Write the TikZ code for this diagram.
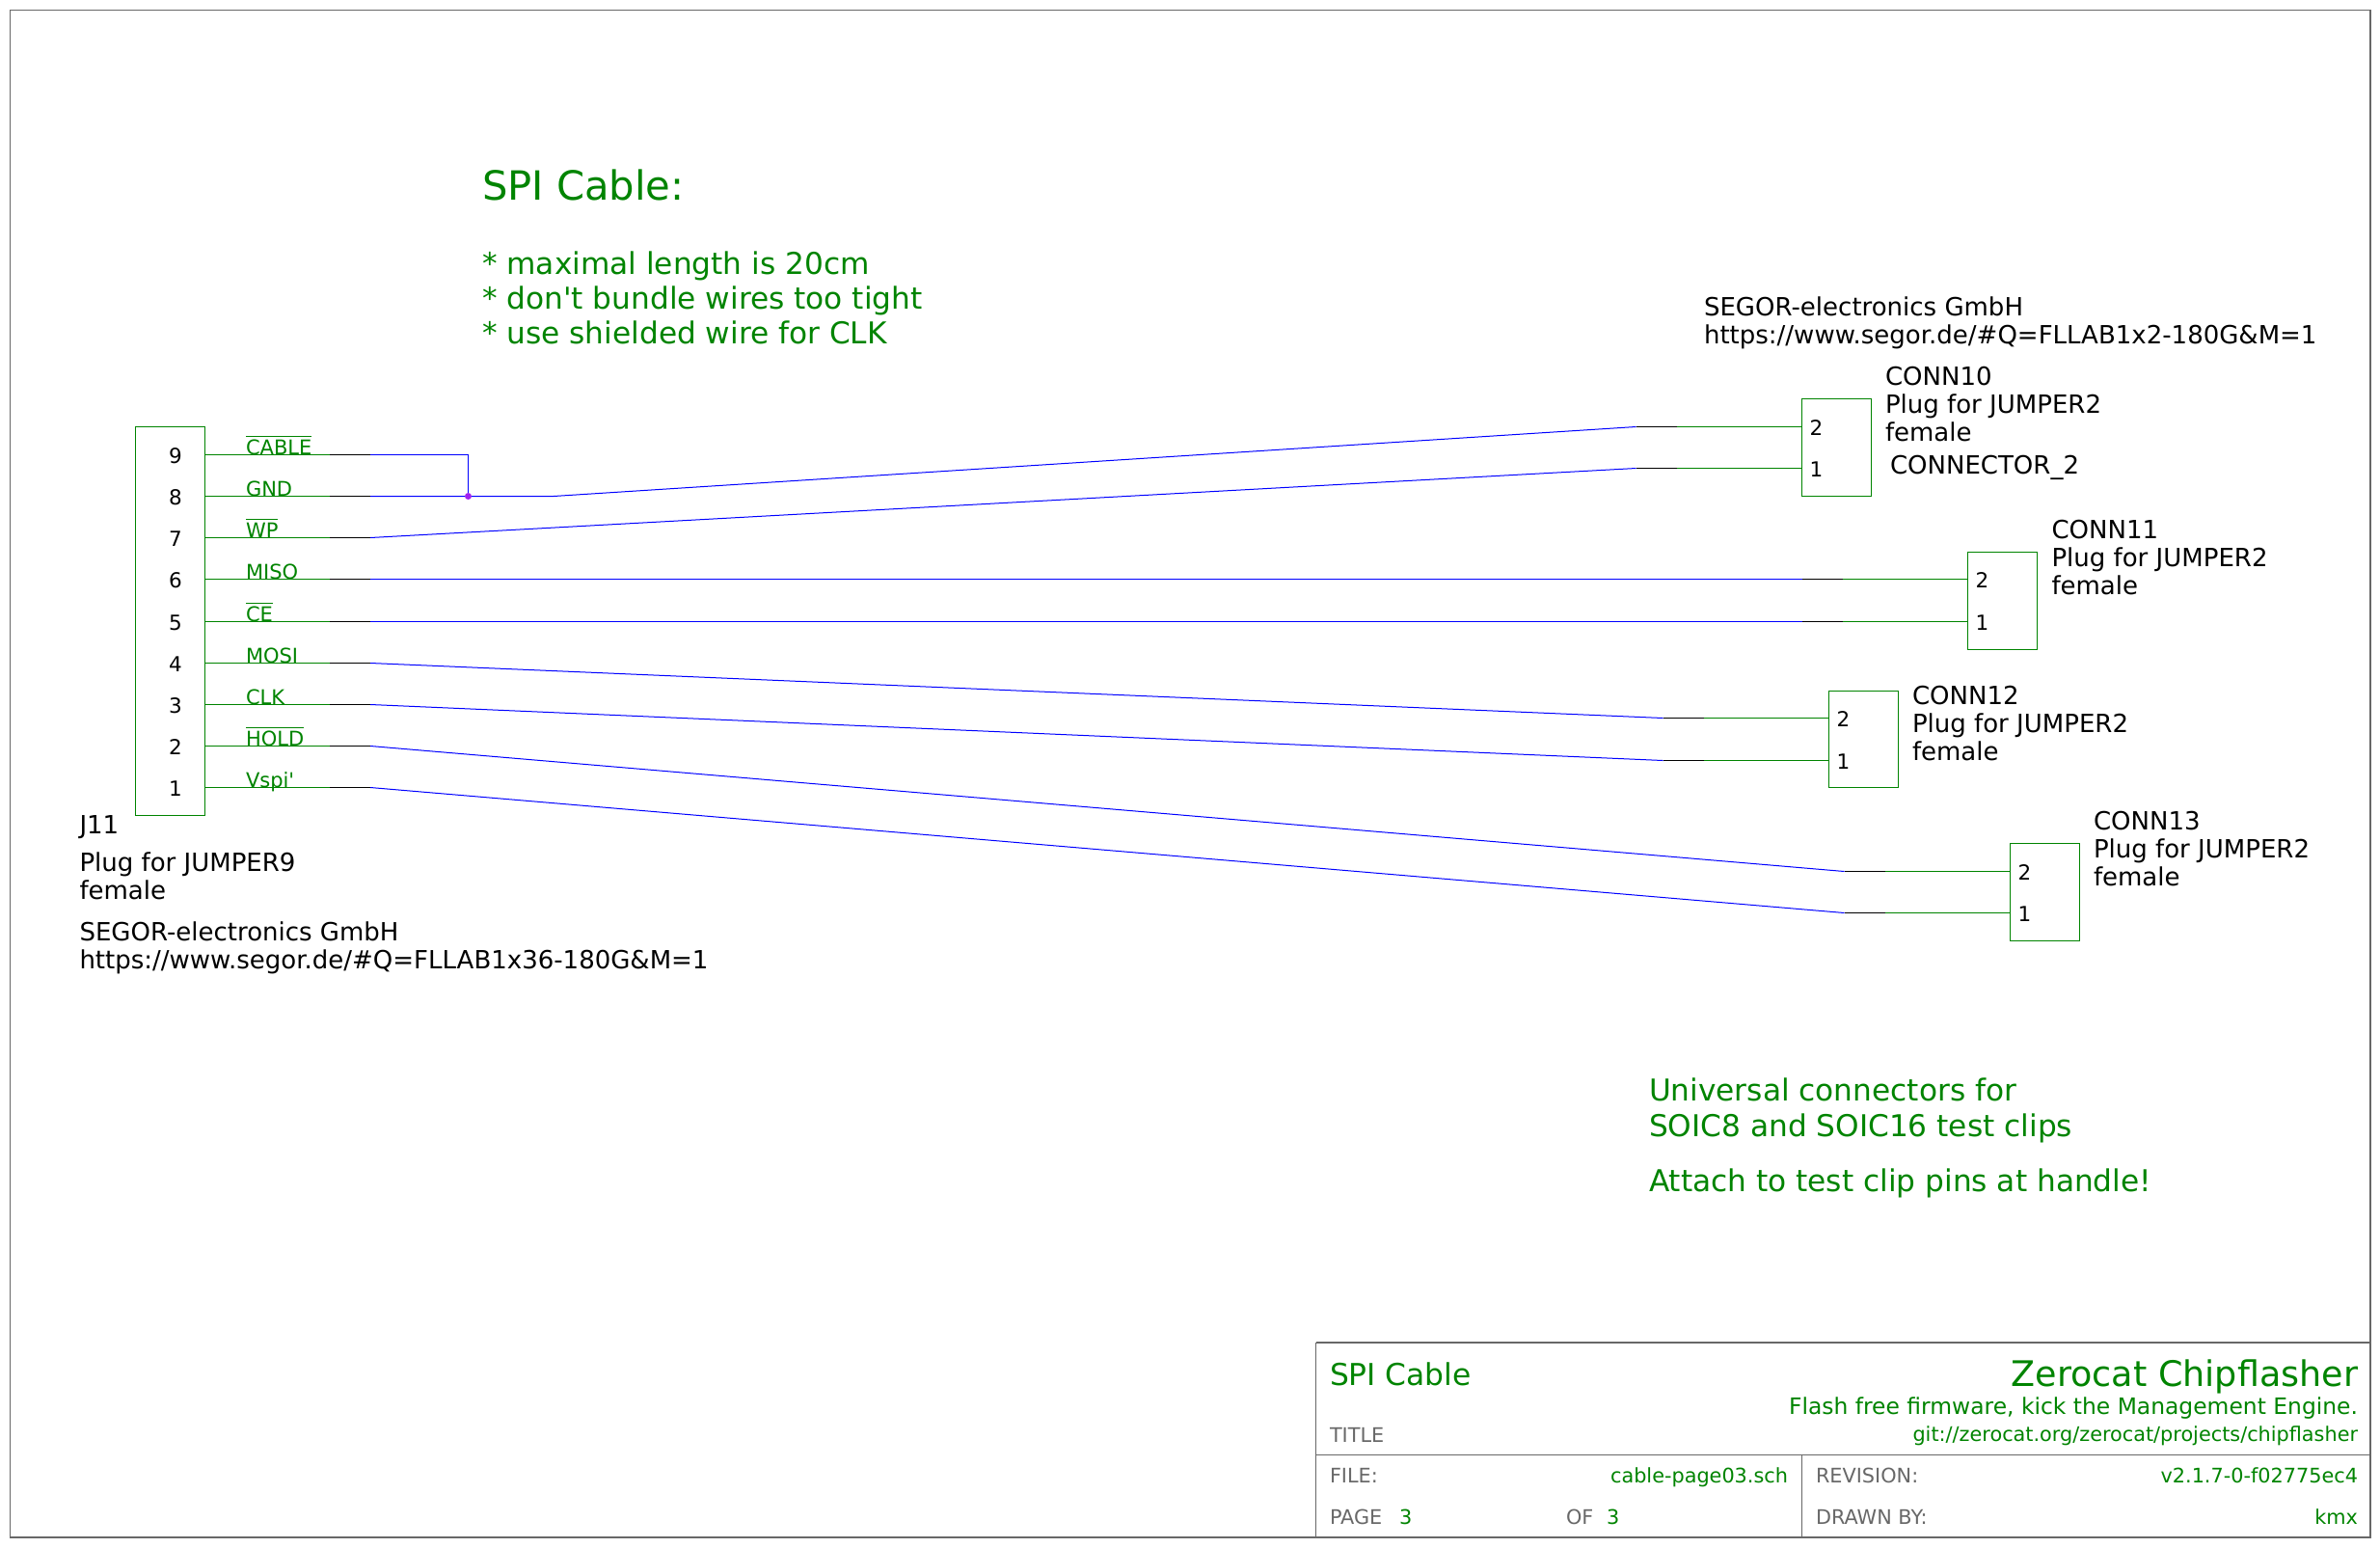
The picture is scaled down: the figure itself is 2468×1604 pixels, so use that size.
\documentclass[tikz,border=0pt]{standalone}
\usepackage{fontspec}
\setmainfont[Ligatures=TeXOff]{DejaVu Sans}
\definecolor{kgreen}{RGB}{0,132,0}
\definecolor{kgray}{RGB}{104,104,104}
\definecolor{kblue}{RGB}{0,0,255}
\definecolor{kpurple}{RGB}{160,32,240}
\newcommand{\fs}[1]{\fontsize{#1}{#1}\selectfont}
\newcommand{\ov}[1]{\leavevmode\setbox0\hbox{#1}\rlap{\rule[18.4pt]{\wd0}{0.8pt}}\box0}
\tikzset{
  x=1pt,y=-1pt,
  every node/.style={inner sep=0pt,outer sep=0pt},
  frameline/.style={draw=kgray,line width=1.2pt},
  thinframe/.style={draw=kgray,line width=0.8pt},
  body/.style={draw=kgreen,line width=1pt},
  pinline/.style={draw=kgreen,line width=1pt},
  stub/.style={draw=black,line width=1pt},
  wire/.style={draw=kblue,line width=1pt},
  pinnum/.style={anchor=base,text=black,font=\fs{21.5}},
  netlabel/.style={anchor=base west,text=kgreen,font=\fs{21}},
  attr/.style={anchor=base west,text=black,font=\fs{26}},
  note/.style={anchor=base west,text=kgreen,font=\fs{31.2}},
  tlabel/.style={anchor=base west,text=kgray,font=\fs{20.8}},
  tvalue/.style={anchor=base east,text=kgreen,font=\fs{20.8}},
}
\begin{document}
\begin{tikzpicture}
\useasboundingbox (0,0) rectangle (2468,1604);
\fill[white] (0,0) rectangle (2468,1604);
% frame
\path[frameline] (10.5,10.5) rectangle (2458,1594);
\coordinate (tbTL) at (1364.5,1392);
\coordinate (tbML) at (1364.5,1508.5);
\coordinate (tbMR) at (2458,1508.5);
\coordinate (tbBL) at (1364.5,1594);
\coordinate (tbTR) at (2458,1392);
\coordinate (tbVT) at (1868.5,1508.5);
\coordinate (tbVB) at (1868.5,1594);
\path[frameline] (tbTL) -- (tbBL);
\path[frameline] (tbTL) -- (tbTR);
\path[frameline] (tbML) -- (tbMR);
\path[thinframe] (tbVT) -- (tbVB);
% title block texts
\node[anchor=base west,text=kgreen,font=\fs{31.3}] (t1) at (1379,1436) {SPI Cable};
\node[anchor=base east,text=kgreen,font=\fs{36.5}] (t2) at (2445,1437) {Zerocat Chipflasher};
\node[tvalue,font=\fs{23.4}] (t3) at (2445,1466) {Flash free firmware, kick the Management Engine.};
\node[tlabel] (t4) at (1379,1495) {TITLE};
\node[tvalue] (t5) at (2445,1494) {git://zerocat.org/zerocat/projects/chipflasher};
\node[tlabel] (t6) at (1379,1537) {FILE:};
\node[tvalue] (t7) at (1854,1537) {cable-page03.sch};
\node[tlabel] (t8) at (1883,1537) {REVISION:};
\node[tvalue] (t9) at (2445,1537) {v2.1.7-0-f02775ec4};
\node[tlabel] (t10) at (1379,1580) {PAGE};
\node[anchor=base west,text=kgreen,font=\fs{20.8}] (t11) at (1451,1580) {3};
\node[tlabel] (t12) at (1624,1580) {OF};
\node[anchor=base west,text=kgreen,font=\fs{20.8}] (t13) at (1666,1580) {3};
\node[tlabel] (t14) at (1883,1580) {DRAWN BY:};
\node[tvalue] (t15) at (2445,1580) {kmx};
% notes
\node[note,font=\fs{41.7}] (n1) at (500,207) {SPI Cable:};
\node[note] (n2) at (500,284) {* maximal length is 20cm};
\node[note] (n3) at (500,320) {* don't bundle wires too tight};
\node[note] (n4) at (500,356) {* use shielded wire for CLK};
\node[note] (n5) at (1710,1141) {Universal connectors for};
\node[note] (n6) at (1710,1178) {SOIC8 and SOIC16 test clips};
\node[note] (n7) at (1710,1235) {Attach to test clip pins at handle!};
% J11
\path[body] (140.5,442.5) rectangle (212.5,845.5);
\foreach \n/\y in {9/471.5,8/514.5,7/557.5,6/600.5,5/644.5,4/687.5,3/730.5,2/773.5,1/816.5}{
  \coordinate (ja\n) at (212.5,\y);
  \coordinate (jb\n) at (342,\y);
  \coordinate (jc\n) at (384,\y);
  \path[pinline] (ja\n) -- (jb\n);
  \path[stub] (jb\n) -- (jc\n);
  \node[pinnum] (jn\n) at (182,\y+9) {\n};
}
\node[netlabel] (l9) at (255,471) {\ov{CABLE}};
\node[netlabel] (l8) at (255,514.5) {GND};
\node[netlabel] (l7) at (255,557.5) {\ov{WP}};
\node[netlabel] (l6) at (255,600.5) {MISO};
\node[netlabel] (l5) at (255,644) {\ov{CE}};
\node[netlabel] (l4) at (255,687.5) {MOSI};
\node[netlabel] (l3) at (255,730.5) {CLK};
\node[netlabel] (l2) at (255,773.5) {\ov{HOLD}};
\node[netlabel] (l1) at (255,816.5) {Vspi'};
\node[attr] (a1) at (82.5,864.5) {J11};
\node[attr] (a2) at (82.5,903) {Plug for JUMPER9};
\node[attr] (a3) at (82.5,932) {female};
\node[attr] (a4) at (82.5,975) {SEGOR-electronics GmbH};
\node[attr] (a5) at (82.5,1004) {https://www.segor.de/\#Q=FLLAB1x36-180G\&M=1};
% connectors
\newcommand{\conn}[6]{% name, left x, top y, bottom y, pin2 y, pin1 y
  \path[body] (#2,#3) rectangle (#2+72,#4);
  \coordinate (#1p2) at (#2,#5);
  \coordinate (#1p1) at (#2,#6);
  \coordinate (#1g2) at (#2-130,#5);
  \coordinate (#1g1) at (#2-130,#6);
  \coordinate (#1s2) at (#2-172,#5);
  \coordinate (#1s1) at (#2-172,#6);
  \path[pinline] (#1p2) -- (#1g2);
  \path[pinline] (#1p1) -- (#1g1);
  \path[stub] (#1g2) -- (#1s2);
  \path[stub] (#1g1) -- (#1s1);
  \node[pinnum,anchor=base west] (#1n2) at (#2+8,#5+8.5) {2};
  \node[pinnum,anchor=base west] (#1n1) at (#2+8,#6+8.5) {1};
}
\conn{a}{1868.5}{413.5}{514.5}{442.5}{485.5}
\conn{b}{2040.5}{572.5}{673.5}{600.5}{644.5}
\conn{c}{1896.5}{716.5}{816.5}{744.5}{788.5}
\conn{d}{2084.5}{874.5}{975.5}{903.5}{946.5}
\coordinate (junc) at (485.5,514.5);
\coordinate (jbend) at (485.5,471.5);
\coordinate (k8) at (574,514.5);
\path[wire] (jc9) -- (jbend) -- (junc);
\path[wire] (jc8) -- (k8) -- (as2);
\path[wire] (jc7) -- (as1);
\path[wire] (jc6) -- (bs2);
\path[wire] (jc5) -- (bs1);
\path[wire] (jc4) -- (cs2);
\path[wire] (jc3) -- (cs1);
\path[wire] (jc2) -- (ds2);
\path[wire] (jc1) -- (ds1);
\fill[kpurple] (junc) circle (3.5);
% connector texts
\node[attr] (c1) at (1955,399) {CONN10};
\node[attr] (c2) at (1955,428) {Plug for JUMPER2};
\node[attr] (c3) at (1955,457) {female};
\node[attr] (c4) at (1960,491) {CONNECTOR\_2};
\node[attr] (c5) at (1767,327.5) {SEGOR-electronics GmbH};
\node[attr] (c6) at (1767,356.5) {https://www.segor.de/\#Q=FLLAB1x2-180G\&M=1};
\node[attr] (d1) at (2127.5,558) {CONN11};
\node[attr] (d2) at (2127.5,587) {Plug for JUMPER2};
\node[attr] (d3) at (2127.5,616) {female};
\node[attr] (e1) at (1983,730) {CONN12};
\node[attr] (e2) at (1983,759) {Plug for JUMPER2};
\node[attr] (e3) at (1983,788) {female};
\node[attr] (f1) at (2171,860) {CONN13};
\node[attr] (f2) at (2171,889) {Plug for JUMPER2};
\node[attr] (f3) at (2171,918) {female};
\end{tikzpicture}
\end{document}
